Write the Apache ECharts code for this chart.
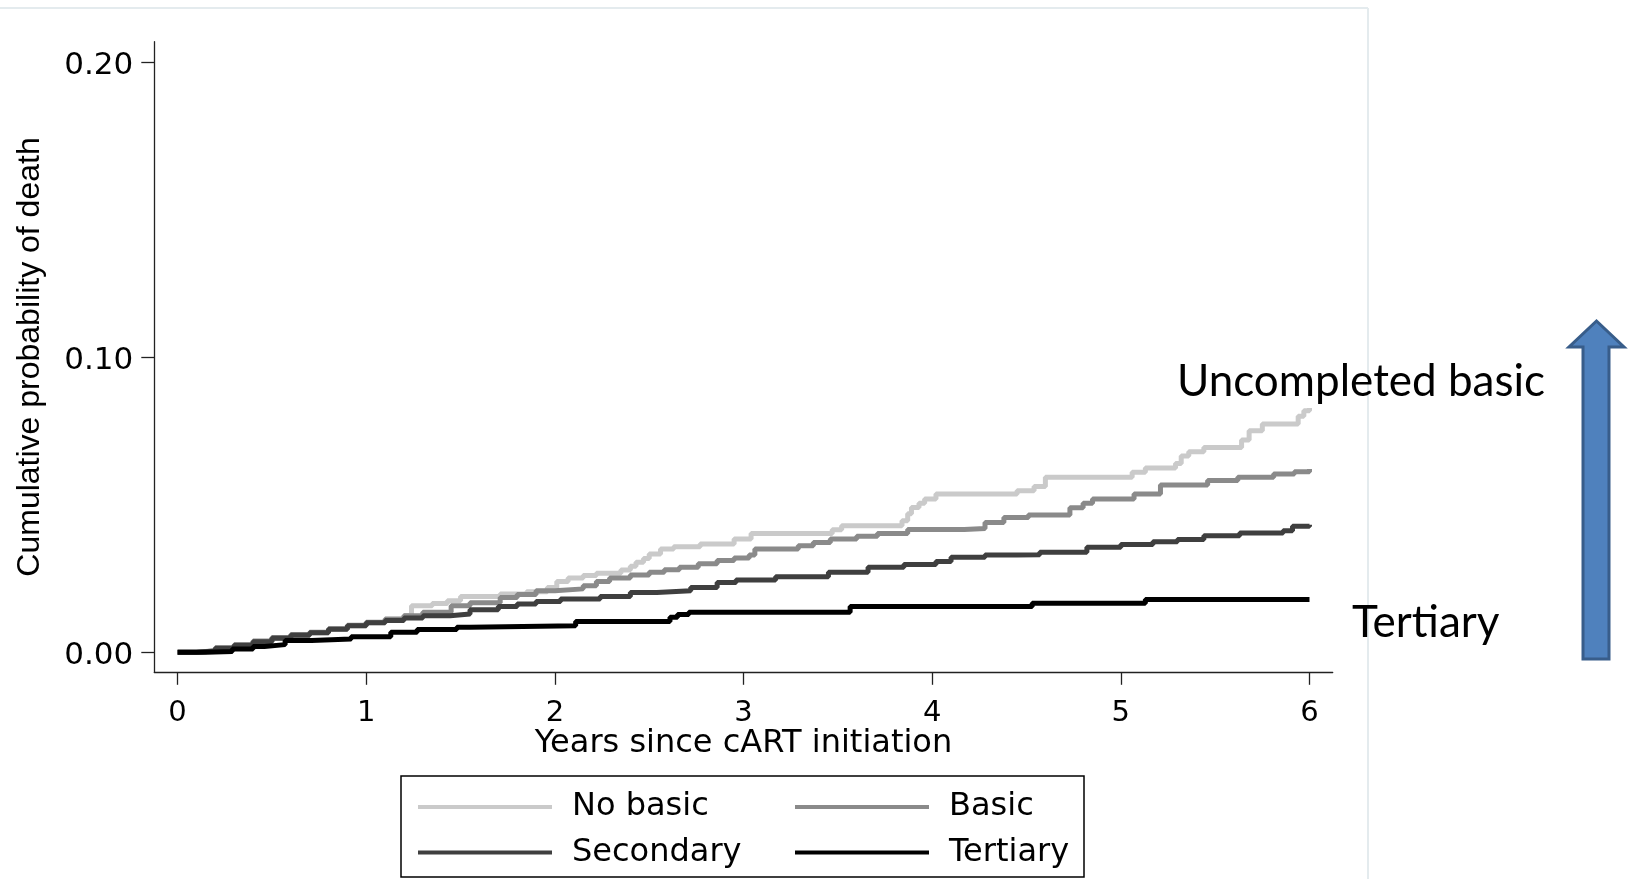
<!DOCTYPE html>
<html>
<head>
<meta charset="utf-8">
<script src="https://cdn.jsdelivr.net/npm/echarts@6/dist/echarts.min.js"></script>
<style>
  html, body { margin: 0; padding: 0; background: #ffffff; }
  #chart { width: 1632px; height: 879px; }
</style>
</head>
<body>
<div id="chart"></div>
<script>
// ---- Data ----
const xTicks = [0, 1, 2, 3, 4, 5, 6];
const yTicks = [0, 0.1, 0.2];
const seriesNames = ['No basic', 'Basic', 'Secondary', 'Tertiary'];

const noBasic = [
  [0,0],[0.1,0.0003],[0.2,0.0012],[0.3,0.0023],[0.4,0.0035],[0.5,0.0047],[0.6,0.0058],
  [0.7,0.0066],[0.8,0.0079],[0.9,0.0090],[1.0,0.0100],[1.1,0.0110],[1.2,0.0125],
  [1.24,0.0158],[1.35,0.0165],[1.43,0.0175],[1.5,0.0189],[1.71,0.0198],[1.85,0.0205],
  [1.96,0.0220],[2.01,0.0240],[2.07,0.0252],[2.15,0.0260],[2.22,0.0268],[2.35,0.0279],
  [2.40,0.0292],[2.43,0.0305],[2.47,0.0318],[2.50,0.0333],[2.56,0.0350],[2.63,0.0358],
  [2.77,0.0367],[2.95,0.0384],[3.04,0.0403],[3.47,0.0415],[3.52,0.0429],[3.84,0.0446],
  [3.87,0.0470],[3.89,0.0491],[3.93,0.0505],[3.96,0.0520],[4.02,0.0537],[4.45,0.0548],
  [4.54,0.0562],[4.60,0.0593],[5.06,0.0610],[5.13,0.0625],[5.29,0.0640],[5.32,0.0665],
  [5.36,0.0680],[5.44,0.0694],[5.64,0.0720],[5.68,0.0751],[5.75,0.0774],[5.94,0.0800],
  [5.97,0.0819],[6.0,0.0828]
];
const basic = [
  [0,0],[0.1,0.0005],[0.2,0.0015],[0.3,0.0026],[0.4,0.0038],[0.5,0.0050],[0.6,0.0060],
  [0.7,0.0068],[0.8,0.0080],[0.9,0.0092],[1.0,0.0102],[1.1,0.0113],[1.2,0.0124],
  [1.3,0.0136],[1.45,0.0158],[1.55,0.0168],[1.71,0.0186],[1.80,0.0196],[1.90,0.0209],
  [2.0,0.0215],[2.15,0.0226],[2.22,0.0240],[2.29,0.0252],[2.40,0.0262],[2.50,0.0271],
  [2.58,0.0280],[2.66,0.0288],[2.76,0.0300],[2.86,0.0311],[2.95,0.0320],[3.03,0.0330],
  [3.06,0.0350],[3.29,0.0361],[3.37,0.0372],[3.46,0.0384],[3.60,0.0393],[3.71,0.0403],
  [3.87,0.0416],[4.17,0.0420],[4.28,0.0440],[4.38,0.0457],[4.51,0.0465],[4.73,0.0490],
  [4.80,0.0505],[4.85,0.0520],[5.07,0.0537],[5.21,0.0567],[5.46,0.0582],[5.62,0.0593],
  [5.81,0.0604],[5.92,0.0612],[6.0,0.0621]
];
const secondary = [
  [0,0],[0.1,0.0004],[0.2,0.0014],[0.3,0.0024],[0.4,0.0036],[0.5,0.0048],[0.6,0.0058],
  [0.7,0.0066],[0.8,0.0078],[0.9,0.0090],[1.0,0.0100],[1.1,0.0108],[1.2,0.0116],
  [1.3,0.0124],[1.445,0.0130],[1.55,0.0144],[1.7,0.0155],[1.8,0.0164],[1.9,0.0172],
  [2.03,0.0181],[2.24,0.0189],[2.4,0.0203],[2.54,0.0209],[2.72,0.0220],[2.86,0.0237],
  [2.96,0.0245],[3.17,0.0256],[3.45,0.0271],[3.66,0.0288],[3.85,0.0298],[4.02,0.0308],
  [4.10,0.0322],[4.28,0.0330],[4.45,0.0331],[4.57,0.0339],[4.82,0.0356],[5.0,0.0365],
  [5.17,0.0375],[5.30,0.0382],[5.44,0.0395],[5.63,0.0404],[5.86,0.0412],[5.91,0.0427],
  [6.0,0.0432]
];
const tertiary = [
  [0,0],[0.15,0.0003],[0.29,0.0011],[0.4,0.0020],[0.46,0.0026],[0.57,0.0040],[0.71,0.0045],
  [0.92,0.0053],[1.13,0.0068],[1.27,0.0077],[1.48,0.0085],[1.55,0.0090],[2.11,0.0104],
  [2.61,0.0119],[2.65,0.0128],[2.71,0.0136],[3.565,0.0155],[4.53,0.0166],[5.13,0.0179],
  [6.0,0.0179]
];
const seriesData = [noBasic, basic, secondary, tertiary];
const seriesColors = ['#cacaca', '#8a8a8a', '#3f3f3f', '#000000'];

const labelFont = 'DejaVu Sans';

const chart = echarts.init(document.getElementById('chart'), null, { renderer: 'canvas' });

const legendCommon = {
  orient: 'vertical', top: 791, padding: 0,
  itemWidth: 134, itemHeight: 2, itemGap: 13.5,
  itemStyle: { opacity: 0 },
  lineStyle: { width: 4 },
  textStyle: { fontFamily: labelFont, fontSize: 32, color: '#000', lineHeight: 32, padding: [0, 0, 0, 15] }
};

const option = {
  animation: false,
  backgroundColor: '#ffffff',
  grid: {
    left: 154.3, top: 41.7, width: 1178.4, height: 630.6,
    containLabel: false, outerBoundsMode: 'none'
  },
  xAxis: {
    type: 'value',
    min: -0.1235, max: 6.123,
    name: 'Years since cART initiation',
    nameLocation: 'middle',
    nameGap: 55,
    nameMoveOverlap: false,
    nameTextStyle: { fontFamily: labelFont, fontSize: 32, color: '#000' },
    axisLine: { onZero: false, lineStyle: { color: '#222', width: 1.3 } },
    axisTick: { show: true, length: 12.5, customValues: xTicks, lineStyle: { color: '#222', width: 1.3 } },
    axisLabel: { customValues: xTicks, margin: 27, fontFamily: labelFont, fontSize: 29, color: '#000' },
    splitLine: { show: false }
  },
  yAxis: {
    type: 'value',
    min: -0.00678, max: 0.20698,
    name: 'Cumulative probability of death',
    nameLocation: 'middle',
    nameGap: 108,
    nameRotate: 90,
    nameTextStyle: { fontFamily: 'Liberation Sans', fontSize: 32, color: '#000' },
    axisLine: { onZero: false, lineStyle: { color: '#222', width: 1.3 } },
    axisTick: { show: true, length: 13, customValues: yTicks, lineStyle: { color: '#222', width: 1.3 } },
    axisLabel: {
      customValues: yTicks, margin: 21, fontFamily: labelFont, fontSize: 31, color: '#000',
      formatter: v => '{v|' + v.toFixed(2) + '}',
      rich: { v: { fontFamily: labelFont, fontSize: 31, color: '#000', padding: [8, 0, 0, 0] } }
    },
    splitLine: { show: false }
  },
  legend: [
    Object.assign({ data: [seriesNames[0], seriesNames[2]], left: 416 }, legendCommon),
    Object.assign({ data: [seriesNames[1], seriesNames[3]], left: 793 }, legendCommon)
  ],
  series: seriesNames.map((name, i) => ({
    name: name,
    type: 'line',
    step: 'end',
    symbol: 'none',
    data: seriesData[i],
    color: seriesColors[i],
    lineStyle: { color: seriesColors[i], width: 5 },
    z: 2 + i
  })),
  graphic: [
    // faint slide frame lines
    { type: 'line', shape: { x1: 0, y1: 8, x2: 1368, y2: 8 }, style: { stroke: '#e4ebee', lineWidth: 2 }, silent: true },
    { type: 'line', shape: { x1: 1368, y1: 8, x2: 1368, y2: 879 }, style: { stroke: '#e4ebee', lineWidth: 2 }, silent: true },
    // legend frame
    { type: 'rect', shape: { x: 401, y: 776, width: 683, height: 101 }, style: { fill: 'none', stroke: '#000', lineWidth: 1.5 }, silent: true },
    // annotations
    { type: 'text', left: 1177, top: 360, style: { text: 'Uncompleted basic', font: '44px Lato', fill: '#000' }, silent: true },
    { type: 'text', left: 1352, top: 601, style: { text: 'Tertiary', font: '44px Lato', fill: '#000' }, silent: true },
    // blue arrow
    {
      type: 'polygon',
      shape: { points: [[1583, 659], [1609, 659], [1609, 347], [1624, 347], [1596.5, 321], [1569, 347], [1583, 347]] },
      style: { fill: '#4f81bd', stroke: '#385d8a', lineWidth: 3 },
      silent: true
    }
  ]
};

chart.setOption(option);
</script>
</body>
</html>
